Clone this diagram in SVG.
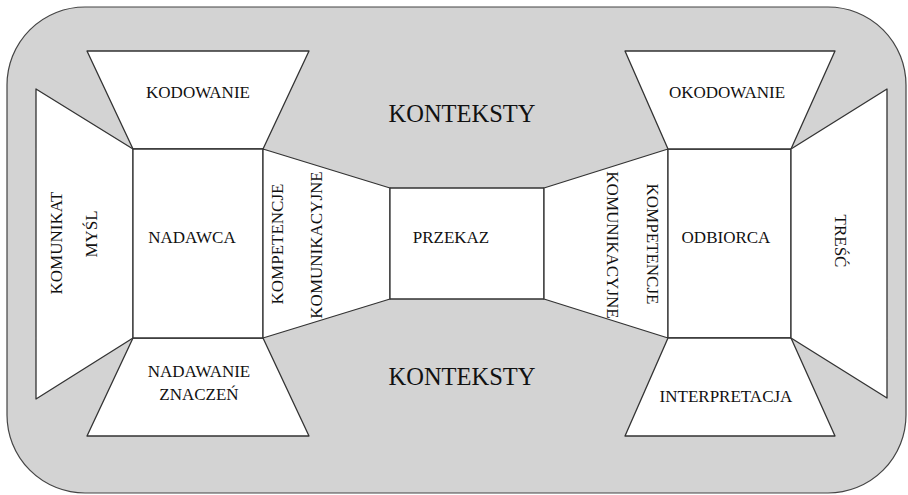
<svg xmlns="http://www.w3.org/2000/svg" width="908" height="495" viewBox="0 0 908 495">
<style>
.bg{fill:#d3d3d3;stroke:#444;stroke-width:1.2}
.s{fill:#fff;stroke:#333;stroke-width:1.3;stroke-linejoin:round}
text{font-family:'Liberation Serif','Times New Roman',serif;font-size:17px;fill:#111;text-anchor:middle}
.big{font-size:24.5px}
</style>
<rect class="bg" x="7" y="7" width="899" height="486" rx="78" ry="78"/>
<g id="konteksty-top"><text class="big" x="462" y="122">KONTEKSTY</text></g>
<g id="konteksty-bottom"><text class="big" x="462" y="385">KONTEKSTY</text></g>
<g id="mysl">
<polygon class="s" points="36,89 133,149 133,338 36,399"/>
<text transform="translate(62,243) rotate(-90)">KOMUNIKAT</text>
<text transform="translate(97,234) rotate(-90)">MYŚL</text>
</g>
<g id="kodowanie">
<polygon class="s" points="87,51 309,51 263,149 133,149"/>
<text x="198" y="98">KODOWANIE</text>
</g>
<g id="nadawanie">
<polygon class="s" points="133,338 263,338 309,436 87,436"/>
<text x="199" y="377">NADAWANIE</text>
<text x="199" y="400">ZNACZEŃ</text>
</g>
<g id="nadawca">
<rect class="s" x="133" y="149" width="130" height="189"/>
<text x="192" y="243">NADAWCA</text>
</g>
<g id="kompetencje-left">
<polygon class="s" points="263,149 390,188 390,299 263,338"/>
<text transform="translate(283,244) rotate(-90)">KOMPETENCJE</text>
<text transform="translate(322,245) rotate(-90)">KOMUNIKACYJNE</text>
</g>
<g id="przekaz">
<rect class="s" x="390" y="188" width="154" height="111"/>
<text x="451" y="243">PRZEKAZ</text>
</g>
<g id="kompetencje-right">
<polygon class="s" points="544,188 668,149 668,338 544,299"/>
<text transform="translate(607,245) rotate(90)">KOMUNIKACYJNE</text>
<text transform="translate(647,244) rotate(90)">KOMPETENCJE</text>
</g>
<g id="odbiorca">
<rect class="s" x="668" y="149" width="123" height="189"/>
<text x="726" y="243">ODBIORCA</text>
</g>
<g id="okodowanie">
<polygon class="s" points="625,51 835,51 791,149 668,149"/>
<text x="727" y="98">OKODOWANIE</text>
</g>
<g id="interpretacja">
<polygon class="s" points="668,338 791,338 835,436 625,436"/>
<text x="726" y="402">INTERPRETACJA</text>
</g>
<g id="tresc">
<polygon class="s" points="791,149 887,89 887,398 791,338"/>
<text transform="translate(835,241) rotate(90)">TREŚĆ</text>
</g>
<g id="connectors"></g>
</svg>
